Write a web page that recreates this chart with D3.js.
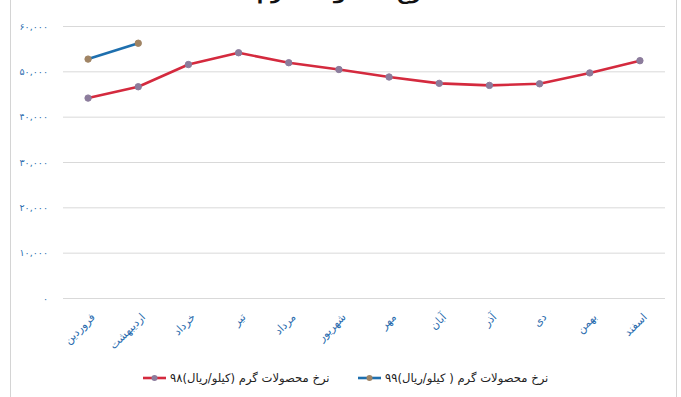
<!DOCTYPE html>
<html>
<head>
<meta charset="utf-8">
<script src="https://d3js.org/d3.v7.min.js"></script>
<style>
  body { margin: 0; background: #fff; }
  svg { display: block; font-family: "DejaVu Sans", sans-serif; }
</style>
</head>
<body>
<div id="chart"></div>
<script>
// months of the Persian calendar
const months = ["فروردین", "اردیبهشت", "خرداد", "تیر", "مرداد", "شهریور",
                "مهر", "آبان", "آذر", "دی", "بهمن", "اسفند"];

// price (rial per kilo), year 98 and year 99
const prices98 = [44100, 46600, 51500, 54100, 51900, 50400, 48750, 47350, 46900, 47250, 49650, 52350];
const prices99 = [52700, 56200];

const yTicks = [0, 10000, 20000, 30000, 40000, 50000, 60000];

const title = "نرخ محصولات گرم";
const label98 = "نرخ محصولات گرم (کیلو/ریال)۹۸";
const label99 = "نرخ محصولات گرم ( کیلو/ریال)۹۹";

const width = 681, height = 397;
const plot = {left: 63, right: 665, top: 26, bottom: 298};

const fa = d3.formatLocale({
    decimal: ".", thousands: ",", grouping: [3], currency: ["", ""],
    numerals: ["۰", "۱", "۲", "۳", "۴", "۵", "۶", "۷", "۸", "۹"]
});
const fmt = fa.format(",");

const svg = d3.select("#chart")
    .append("svg")
    .attr("width", width)
    .attr("height", height);

// chart area border (top is cut off)
svg.append("rect")
    .attr("x", 10.5).attr("y", -10)
    .attr("width", 666).attr("height", 420)
    .attr("fill", "#fff")
    .attr("stroke", "#d4d4d4");

const x = d3.scaleBand()
    .domain(months)
    .range([plot.left, plot.right]);

const y = d3.scaleLinear()
    .domain([0, 60000])
    .range([plot.bottom, plot.top]);

const cx = d => x(d) + x.bandwidth() / 2;

// title, mostly above the visible area like in the source picture
svg.append("text")
    .attr("x", 343)
    .attr("y", -1)
    .attr("text-anchor", "middle")
    .attr("font-size", "19px")
    .attr("font-weight", "bold")
    .attr("fill", "#111")
    .text(title);

// gridlines
svg.append("g")
    .attr("transform", `translate(${plot.left},0)`)
    .call(d3.axisLeft(y).tickValues(yTicks).tickSize(-(plot.right - plot.left)).tickFormat(""))
    .call(g => g.select(".domain").remove())
    .call(g => g.selectAll("line").attr("stroke", "#d9d9d9"));

// y labels
svg.append("g")
    .attr("transform", "translate(48,0)")
    .call(d3.axisLeft(y).tickValues(yTicks).tickSize(0).tickPadding(0).tickFormat(fmt))
    .call(g => g.select(".domain").remove())
    .call(g => g.selectAll("text")
        .attr("font-family", "DejaVu Sans")
        .attr("font-size", "9.5px")
        .attr("fill", "#2f6fb0"));

// x labels
svg.append("g")
    .attr("transform", `translate(0,${plot.bottom})`)
    .call(d3.axisBottom(x).tickSize(0).tickPadding(0))
    .call(g => g.select(".domain").remove())
    .call(g => g.selectAll("text")
        .attr("font-family", "DejaVu Sans")
        .attr("font-size", "11px")
        .attr("fill", "#2a6cae")
        .attr("text-anchor", "end")
        .attr("dy", "0.35em")
        .attr("transform", "translate(5,17) rotate(-45)"));

const line = d3.line()
    .x((d, i) => cx(months[i]))
    .y(d => y(d));

function drawSeries(values, color, markerFill) {
    svg.append("path")
        .datum(values)
        .attr("fill", "none")
        .attr("stroke", color)
        .attr("stroke-width", 2.6)
        .attr("stroke-linejoin", "round")
        .attr("d", line);
    svg.append("g")
        .selectAll("circle")
        .data(values)
        .join("circle")
        .attr("cx", (d, i) => cx(months[i]))
        .attr("cy", d => y(d))
        .attr("r", 3.2)
        .attr("fill", markerFill)
        .attr("stroke", markerFill);
}

drawSeries(prices98, "#d42a3e", "#8c7c9c");
drawSeries(prices99, "#1e6fae", "#a08464");

// legend
const legend = [
    {label: label99, color: "#1e6fae", marker: "#a08464", x: 358},
    {label: label98, color: "#d42a3e", marker: "#8c7c9c", x: 143}
];
const lg = svg.append("g").selectAll("g")
    .data(legend)
    .join("g")
    .attr("transform", d => `translate(${d.x},378)`);
lg.append("line")
    .attr("x1", 0).attr("x2", 23)
    .attr("stroke", d => d.color)
    .attr("stroke-width", 2.6);
lg.append("circle")
    .attr("cx", 11.5).attr("r", 3)
    .attr("fill", d => d.marker);
lg.append("text")
    .attr("x", 27)
    .attr("dy", "0.35em")
    .attr("font-size", "11.6px")
    .attr("fill", "#222")
    .text(d => d.label);
</script>
</body>
</html>
